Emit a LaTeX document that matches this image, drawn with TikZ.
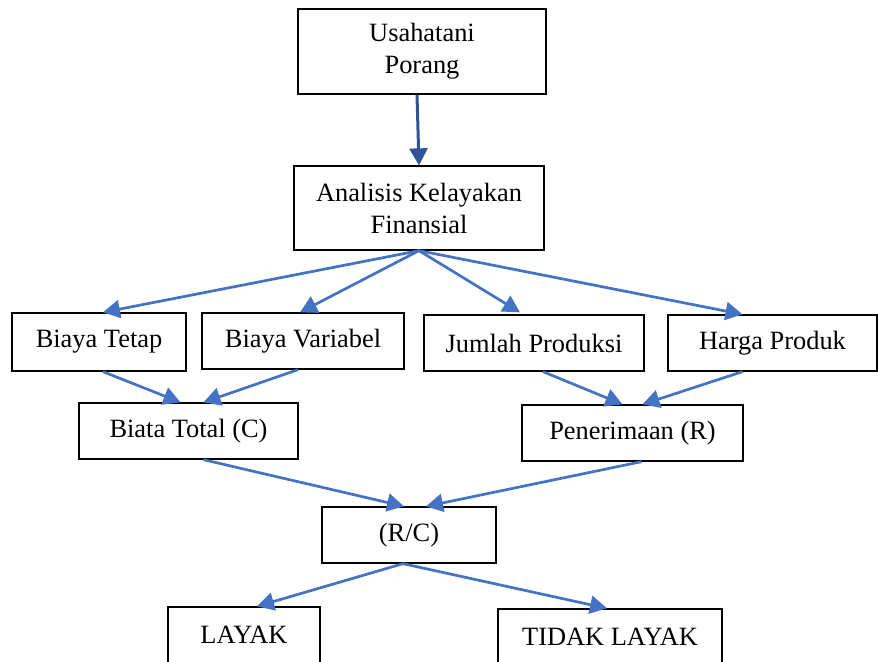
\documentclass[tikz,border=0pt]{standalone}
\usepackage{fontspec}
\setmainfont{Liberation Serif}
\usepackage{tikz}
\usetikzlibrary{arrows.meta,calc}

\definecolor{linkblue}{HTML}{4472C4}
\definecolor{darkblue}{HTML}{2F5597}

\begin{document}
\begin{tikzpicture}[x=0.5pt,y=-0.5pt,
	box/.style={draw,line width=0.65pt,align=center,inner sep=0pt,
	  font=\fontsize{13.2}{16}\selectfont},
	link/.style={draw=linkblue,line width=1.35pt,
	  -{Triangle[length=8.5pt,width=9pt]}}]
	\useasboundingbox (0,0) rectangle (878,661);
	% top part
	\node[box,minimum width=124pt,minimum height=42.5pt] (usaha) at (422,51.5) {Usahatani\\Porang};
	\node[box,minimum width=125pt,minimum height=42pt] (analisis) at (419,208) {Analisis Kelayakan\\Finansial};
	% second row
	\node[box,minimum width=87pt,minimum height=29pt] (tetap) at (99,342) {Biaya Tetap};
	\node[box,minimum width=101pt,minimum height=28pt] (variabel) at (303,341) {Biaya Variabel};
	\node[box,minimum width=110pt,minimum height=28pt] (jumlah) at (534,343) {Jumlah Produksi};
	\node[box,minimum width=104.5pt,minimum height=28pt] (harga) at (772.5,343) {Harga Produk};
	% totals
	\node[box,minimum width=109.5pt,minimum height=28pt] (total) at (188.5,431) {Biata Total (C)};
	\node[box,minimum width=110.5pt,minimum height=28pt] (terima) at (632.5,433) {Penerimaan (R)};
	% ratio and result
	\node[box,minimum width=87pt,minimum height=28pt] (rc) at (409,535) {(R/C)};
	\node[box,minimum width=76pt,minimum height=28pt] (layak) at (244,635) {LAYAK};
	\node[box,minimum width=112pt,minimum height=28pt] (tidak) at (610,637) {TIDAK LAYAK};

	\draw[link,draw=darkblue,line width=1.5pt] ($(usaha.south)+(-5,0)$) -- (analisis.north);
	\draw[link] (analisis.south) -- ($(tetap.north)+(4,0)$);
	\draw[link] (analisis.south) -- ($(variabel.north)+(-3,0)$);
	\draw[link] (analisis.south) -- ($(jumlah.north)+(-14,-2)$);
	\draw[link] (analisis.south) -- ($(harga.north)+(-30,0)$);
	\draw[link] ($(tetap.south)+(4,0)$) -- ($(total.north)+(-8,0)$);
	\draw[link] ($(variabel.south)+(-5,0)$) -- ($(total.north)+(15,0)$);
	\draw[link] ($(jumlah.south)+(9,0)$) -- ($(terima.north)+(-10,0)$);
	\draw[link] ($(harga.south)+(-30,0)$) -- ($(terima.north)+(10,0)$);
	\draw[link] ($(total.south)+(15,0)$) -- ($(rc.north)+(-5,0)$);
	\draw[link] ($(terima.south)+(9,0)$) -- ($(rc.north)+(17,0)$);
	\draw[link] ($(rc.south)+(-6,0)$) -- ($(layak.north)+(13,0)$);
	\draw[link] ($(rc.south)+(-6,0)$) -- ($(tidak.north)+(-3,0)$);
\end{tikzpicture}
\end{document}
